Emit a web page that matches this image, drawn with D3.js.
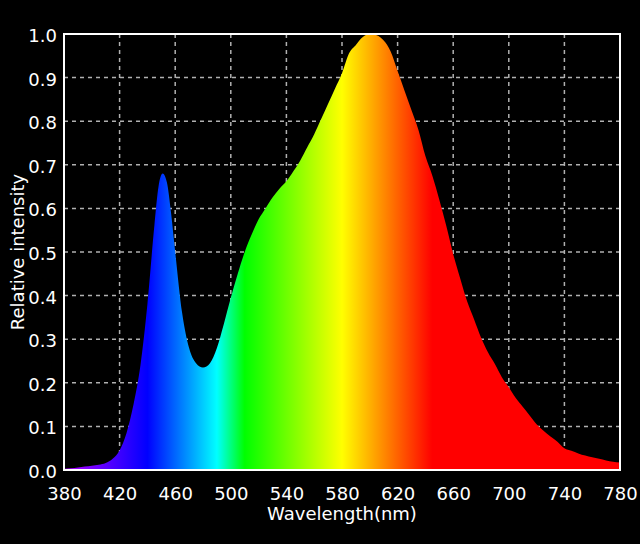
<!DOCTYPE html>
<html>
<head>
<meta charset="utf-8">
<script src="https://cdn.jsdelivr.net/npm/d3@7"></script>
<style>
  body { margin: 0; background: #000; }
  text { font-family: "DejaVu Sans", sans-serif; fill: #fff; }
</style>
</head>
<body>
<div id="chart"></div>
<script>
// spectrum readings, nm and relative intensity
var wavelengths = [380, 385, 390, 395, 400, 405, 410, 415, 420, 425, 430, 435, 440, 445, 448, 451, 454, 457, 460, 465, 470, 475, 480,
  485, 490, 495, 500, 505, 510, 515, 520, 525, 530, 535, 540, 545, 550, 555, 560, 565, 570, 575, 580, 585, 590, 595, 600,
  605, 610, 615, 620, 625, 630, 635, 640, 645, 650, 655, 660, 665, 670, 675, 680, 685, 690, 695, 700, 705, 710, 715, 720,
  725, 730, 735, 740, 745, 750, 755, 760, 765, 770, 775, 780];
var intensity = [0.003, 0.004, 0.006, 0.008, 0.010, 0.012, 0.016, 0.026, 0.045, 0.085, 0.15, 0.24, 0.38, 0.56, 0.65, 0.68, 0.66, 0.59, 0.50, 0.36, 0.28, 0.245, 0.235,
  0.245, 0.28, 0.335, 0.395, 0.45, 0.50, 0.54, 0.575, 0.60, 0.625, 0.645, 0.662, 0.685, 0.71, 0.74, 0.77, 0.805, 0.84, 0.875, 0.91, 0.955, 0.975, 0.993, 1.0,
  0.997, 0.985, 0.96, 0.915, 0.87, 0.825, 0.78, 0.72, 0.675, 0.62, 0.56, 0.495, 0.44, 0.387, 0.346, 0.304, 0.27, 0.243, 0.213, 0.19, 0.165, 0.145, 0.125, 0.105,
  0.09, 0.077, 0.065, 0.05, 0.044, 0.038, 0.033, 0.029, 0.026, 0.022, 0.019, 0.017];

var xTicks = [380, 420, 460, 500, 540, 580, 620, 660, 700, 740, 780];
var yTicks = [0, 0.1, 0.2, 0.3, 0.4, 0.5, 0.6, 0.7, 0.8, 0.9, 1.0];

// colour of each part of the spectrum
var colorNm = [380, 440, 490, 510, 580, 645, 780];
var colorHex = ["#b400ff", "#0000ff", "#00ffff", "#00ff00", "#ffff00", "#ff0000", "#ff0000"];

var svgWidth = 640;
var svgHeight = 544;
var margin = { top: 34, right: 20, bottom: 74, left: 64 };
var width = svgWidth - margin.left - margin.right;
var height = svgHeight - margin.top - margin.bottom;

var svg = d3.select("#chart")
  .append("svg")
  .attr("width", svgWidth)
  .attr("height", svgHeight)
  .style("background", "#000");

var chartGroup = svg.append("g")
  .attr("transform", `translate(${margin.left}, ${margin.top})`);

var x = d3.scaleLinear().domain([380, 780]).range([0, width]);
var y = d3.scaleLinear().domain([0, 1]).range([height, 0]);

// gradient along wavelength
var grad = svg.append("defs").append("linearGradient")
  .attr("id", "spectrum")
  .attr("gradientUnits", "userSpaceOnUse")
  .attr("x1", x(380)).attr("x2", x(780))
  .attr("y1", 0).attr("y2", 0);
grad.selectAll("stop")
  .data(colorNm)
  .enter()
  .append("stop")
  .attr("offset", d => (d - 380) / 400)
  .attr("stop-color", (d, i) => colorHex[i]);

// grid
chartGroup.append("g")
  .selectAll("line")
  .data(xTicks.slice(1, -1))
  .enter()
  .append("line")
  .attr("x1", d => x(d)).attr("x2", d => x(d))
  .attr("y1", 0).attr("y2", height)
  .attr("stroke", "#b0b0b0")
  .attr("stroke-width", 1.5)
  .attr("stroke-dasharray", "4,4");

chartGroup.append("g")
  .selectAll("line")
  .data(yTicks.slice(1, -1))
  .enter()
  .append("line")
  .attr("x1", 0).attr("x2", width)
  .attr("y1", d => y(d)).attr("y2", d => y(d))
  .attr("stroke", "#b0b0b0")
  .attr("stroke-width", 1.5)
  .attr("stroke-dasharray", "4,4");

// spectrum area
var area = d3.area()
  .x((d, i) => x(wavelengths[i]))
  .y0(y(0))
  .y1(d => y(d))
  .curve(d3.curveMonotoneX);

chartGroup.append("path")
  .datum(intensity)
  .attr("d", area)
  .attr("fill", "url(#spectrum)");

// frame
chartGroup.append("rect")
  .attr("x", 0).attr("y", 0)
  .attr("width", width).attr("height", height)
  .attr("fill", "none")
  .attr("stroke", "#fff")
  .attr("stroke-width", 2);

// axes
var bottomAxis = d3.axisBottom(x).tickValues(xTicks).tickSize(0).tickPadding(17);
var leftAxis = d3.axisLeft(y).tickValues(yTicks).tickSize(0).tickPadding(7).tickFormat(d3.format(".1f"));

var xAxis = chartGroup.append("g")
  .attr("transform", `translate(0, ${height})`)
  .call(bottomAxis);
var yAxis = chartGroup.append("g").call(leftAxis);
yAxis.selectAll("text").attr("dy", "0.42em");

[xAxis, yAxis].forEach(function(ax) {
  ax.select(".domain").remove();
  ax.selectAll("text")
    .attr("fill", "#fff")
    .style("font-size", "18px")
    .style("font-family", "'DejaVu Sans', sans-serif");
});

chartGroup.append("text")
  .attr("x", width / 2)
  .attr("y", height + 49.5)
  .attr("text-anchor", "middle")
  .style("font-size", "18px")
  .text("Wavelength(nm)");

chartGroup.append("text")
  .attr("transform", "rotate(-90)")
  .attr("x", -height / 2)
  .attr("y", -40.5)
  .attr("text-anchor", "middle")
  .style("font-size", "18px")
  .text("Relative intensity");
</script>
</body>
</html>
